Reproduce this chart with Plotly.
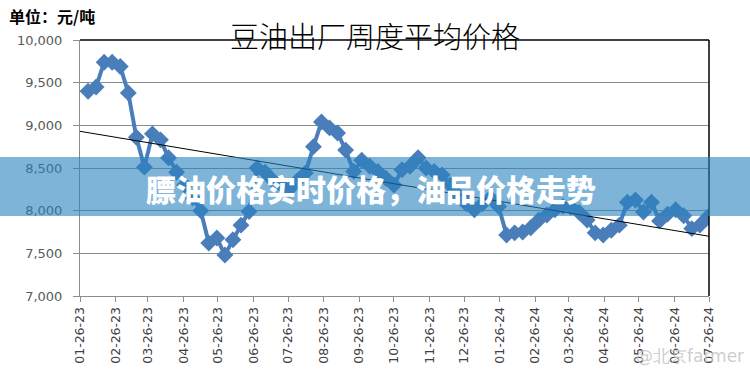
import pandas as pd
import plotly.graph_objects as go

# ---- data ----
week_dates = pd.date_range("2023-02-02", periods=78, freq="7D")
prices = [9400, 9450, 9740, 9740, 9690, 9380, 8860, 8510, 8900, 8830,
          8620, 8450, 8300, 8150, 8000, 7620, 7680, 7480, 7660, 7830,
          7990, 8500, 8450, 8350, 8300, 8250, 8350, 8440, 8750, 9040,
          8970, 8910, 8710, 8460, 8590, 8520, 8460, 8380, 8300, 8480,
          8520, 8620, 8500, 8460, 8420, 8300, 8180, 8080, 8010, 8080,
          8150, 8050, 7715, 7740, 7750, 7800, 7890, 7950, 8010, 8050,
          8040, 7980, 7890, 7740, 7715, 7770, 7830, 8100, 8125, 7985,
          8100, 7880, 7960, 8010, 7940, 7790, 7830, 7925]
trend_dates = ["2023-01-26", "2024-07-26"]
trend_values = [8930, 7700]
tick_dates = pd.date_range("2023-01-26", periods=19, freq=pd.DateOffset(months=1))
tick_labels = [d.strftime("%m-%d-%y") for d in tick_dates]
y_ticks = [7000, 7500, 8000, 8500, 9000, 9500, 10000]
y_labels = [f"{v:,}" for v in y_ticks]

title_text = "豆油出厂周度平均价格"
unit_text = "单位：元/吨"
banner_text = "膘油价格实时价格，油品价格走势"
watermark_text = "@北京farmer"

blue = "#4A7EBB"
grid = "#8C8C8C"

fig = go.Figure()
fig.add_trace(go.Scatter(
    x=week_dates, y=prices, mode="lines+markers",
    line=dict(color=blue, width=4),
    marker=dict(symbol="diamond", size=13, color=blue),
    showlegend=False, hoverinfo="skip"))
fig.add_trace(go.Scatter(
    x=pd.to_datetime(trend_dates), y=trend_values, mode="lines",
    line=dict(color="black", width=1), showlegend=False, hoverinfo="skip"))

fig.update_layout(
    width=750, height=377,
    margin=dict(l=80, r=41, t=40, b=81, autoexpand=False),
    paper_bgcolor="white", plot_bgcolor="white",
    font=dict(family="DejaVu Sans", color="#595959"),
    xaxis=dict(
        range=[pd.Timestamp("2023-01-26"), pd.Timestamp("2024-07-26")],
        tickmode="array", tickvals=tick_dates, ticktext=tick_labels,
        tickangle=-90, tickfont=dict(size=12.5, color="#404040"),
        showgrid=False, showline=True, linecolor=grid, linewidth=1,
        ticks="outside", ticklen=5, tickcolor=grid, zeroline=False),
    yaxis=dict(
        range=[7000, 10000], tickmode="array", tickvals=y_ticks, ticktext=y_labels,
        tickfont=dict(size=13, color="#595959"), ticklabelstandoff=8,
        showgrid=True, gridcolor=grid, gridwidth=1,
        showline=True, linecolor=grid, linewidth=1,
        ticks="outside", ticklen=6, tickcolor=grid, zeroline=False),
)

# black top and right borders of the plot area
fig.add_shape(type="line", xref="paper", yref="paper", x0=0, x1=1, y0=1, y1=1,
              line=dict(color="black", width=1.5), layer="above")
fig.add_shape(type="line", xref="paper", yref="paper", x0=1, x1=1, y0=0, y1=1,
              line=dict(color="black", width=1.5), layer="above")

# title (sits on the top border)
fig.add_annotation(text=title_text, xref="paper", yref="paper", x=(375 - 80) / 629, y=1.0,
                   yshift=5, showarrow=False, xanchor="center", yanchor="middle",
                   font=dict(family="Noto Sans CJK SC", size=29, color="black", weight=300))
fig.add_annotation(text=unit_text, xref="paper", yref="paper",
                   x=-80/629, xshift=7, y=1.0, yshift=24, showarrow=False,
                   xanchor="left", yanchor="middle",
                   font=dict(family="Noto Sans CJK SC", size=16, color="black", weight=700))

# translucent banner across the whole picture
fig.add_shape(type="rect", xref="paper", yref="paper",
              x0=-80/629 - 0.01, x1=1 + 41/629 + 0.01,
              y0=(296 - 216) / 256, y1=(296 - 157) / 256,
              fillcolor="rgba(40,130,190,0.6)", line=dict(width=0), layer="above")
fig.add_annotation(text=banner_text, xref="paper", yref="paper",
                   x=(371 - 80) / 629, y=(296 - 188) / 256, showarrow=False,
                   xanchor="center", yanchor="middle",
                   font=dict(family="Noto Sans CJK SC", size=30, color="white", weight=900))

# watermark
fig.add_annotation(text=watermark_text, xref="paper", yref="paper",
                   x=(690 - 80) / 629, y=(296 - 356) / 256, showarrow=False,
                   xanchor="center", yanchor="middle",
                   font=dict(family="DejaVu Sans", size=17, color="rgba(200,200,200,0.9)"))

fig.write_html("out.html", config={"displayModeBar": False},
               post_script="document.body.style.margin='0';")
